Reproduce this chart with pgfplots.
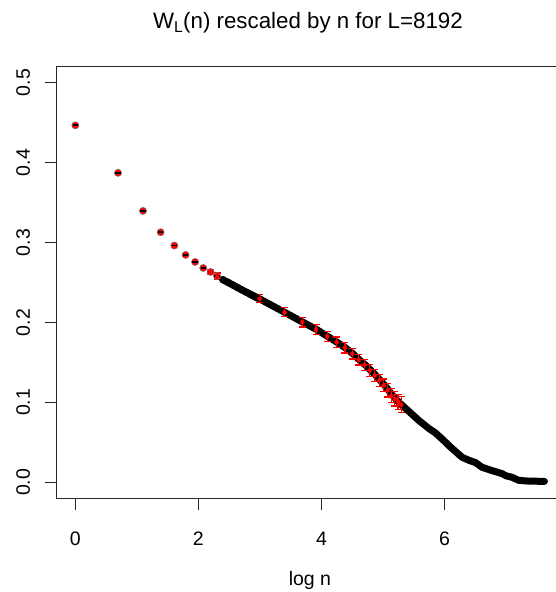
\documentclass[border=0pt]{standalone}
\usepackage{fontspec}
\setmainfont{Liberation Sans}
\usepackage{pgfplots}
\pgfplotsset{compat=1.18}
\begin{document}
\begin{tikzpicture}
\begin{axis}[
  at={(0,0)}, anchor=south west,
  scale only axis, width=506.6pt, height=431.6pt,
  xmin=-0.305, xmax=7.93, ymin=-0.02, ymax=0.52,
  axis line style={black!85, line width=0.9pt},
  xtick={0,2,4,6}, xticklabels={0,2,4,6},
  ytick={0,0.1,0.2,0.3,0.4,0.5}, yticklabels={0.0,0.1,0.2,0.3,0.4,0.5},
  xtick pos=bottom, ytick pos=left,
  tick align=outside, major tick length=12pt,
  tick style={black!85, line width=0.9pt},
  tick label style={font=\fontsize{19.5}{23}\selectfont},
  xticklabel style={yshift=-18pt},
  yticklabel style={rotate=90, anchor=south, yshift=11pt},
  xlabel={log n},
  xlabel style={at={(axis description cs:0.5,0)}, anchor=center, yshift=-82pt, font=\fontsize{19.5}{23}\selectfont},
  title={W\textsubscript{L}(n) rescaled by n for L=8192},
  title style={at={(axis description cs:0.5,1)}, anchor=center, xshift=-2pt, yshift=38pt, font=\fontsize{22.3}{26}\selectfont},
]
% dense band of points (n >= 11)
\addplot[black, line width=7pt, line cap=round, line join=round, mark=none] coordinates {
(2.398,0.2535) (2.565,0.2467) (2.721,0.2402) (2.996,0.2295) (3.200,0.2210)
(3.401,0.2127) (3.550,0.2065) (3.694,0.2005) (3.916,0.1914) (4.099,0.1826)
(4.251,0.1754) (4.386,0.1684) (4.511,0.1609) (4.613,0.1534) (4.710,0.1471)
(4.802,0.1400) (4.883,0.1337) (4.958,0.1274) (5.029,0.1212) (5.094,0.1149)
(5.159,0.1086) (5.256,0.1003) (5.423,0.0886) (5.585,0.0773) (5.747,0.0673)
(5.850,0.0620) (5.958,0.0545) (6.100,0.0440) (6.287,0.0313) (6.400,0.0275)
(6.504,0.0247) (6.611,0.0188) (6.773,0.0147) (6.935,0.0109) (7.000,0.0082)
(7.097,0.0063) (7.206,0.0025) (7.368,0.0015) (7.625,0.0012)
};
\addplot[only marks, mark=*, mark size=3.5pt, black] coordinates {
(2.398,0.2535) (2.485,0.2500) (2.565,0.2467) (2.639,0.2436) (2.708,0.2407)
(2.773,0.2380) (2.833,0.2355) (2.890,0.2332) (2.944,0.2310)
};
% first ten points
\addplot[only marks, mark=*, mark size=3.6pt, mark options={fill=red, draw=black!55, line width=0.5pt}] coordinates {
(0,0.4466) (0.693,0.3872) (1.099,0.3396) (1.386,0.3129) (1.609,0.2962)
(1.792,0.2845) (1.946,0.2757) (2.079,0.2682) (2.197,0.2632) (2.303,0.2581)
};
\addplot[only marks, mark=-, mark size=2.6pt, black, line width=1.8pt] coordinates {
(0,0.4466) (0.693,0.3872) (1.099,0.3396) (1.386,0.3129) (1.609,0.2962)
(1.792,0.2845) (1.946,0.2757) (2.079,0.2682) (2.197,0.2632) (2.303,0.2581)
};
% error bars
\addplot[red, only marks, mark=none,
  error bars/.cd, y dir=both, y explicit, error mark=|,
  error bar style={red, line width=1.3pt},
  error mark options={red, mark size=3.5pt, line width=1.3pt}] coordinates {
(2.197,0.2632) +- (0,0.0035) (2.303,0.2581) +- (0,0.0038)
(2.996,0.2298) +- (0,0.0050) (3.401,0.2127) +- (0,0.0056)
(3.689,0.2005) +- (0,0.0060) (3.912,0.1914) +- (0,0.0062)
(4.094,0.1826) +- (0,0.0063) (4.248,0.1754) +- (0,0.0065)
(4.382,0.1684) +- (0,0.0065) (4.500,0.1609) +- (0,0.0067)
(4.605,0.1534) +- (0,0.0068) (4.700,0.1471) +- (0,0.0070)
(4.787,0.1400) +- (0,0.0072) (4.868,0.1337) +- (0,0.0074)
(4.942,0.1274) +- (0,0.0077) (5.011,0.1212) +- (0,0.0080)
(5.075,0.1149) +- (0,0.0083) (5.136,0.1086) +- (0,0.0087)
(5.193,0.1045) +- (0,0.0090) (5.247,0.1005) +- (0,0.0095)
(5.298,0.0970) +- (0,0.0100)
};
\end{axis}
\pgfresetboundingbox
\useasboundingbox (-56.6pt,-93.7pt) rectangle (498.4pt,498.3pt);
\end{tikzpicture}
\end{document}
